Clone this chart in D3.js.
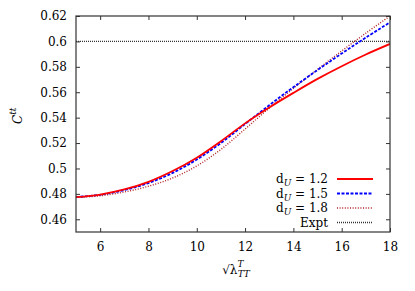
<!DOCTYPE html>
<html><head><meta charset="utf-8">
<script src="https://cdn.jsdelivr.net/npm/d3@7"></script>
<style>body{margin:0;background:#fff}</style>
</head><body><svg id="c" width="415" height="291"></svg>
<script>
const xs = [5,6,7,8,9,10,11,12,13,14,15,16,17,18];
const d12 = [0.4775,0.4795,0.4835,0.4895,0.4980,0.5085,0.5215,0.5355,0.5480,0.5595,0.5705,0.5805,0.5897,0.5980];
const d15 = [0.4775,0.4793,0.4830,0.4885,0.4965,0.5070,0.5200,0.5350,0.5498,0.5640,0.5775,0.5905,0.6030,0.6150];
const d18 = [0.4772,0.4785,0.4815,0.4860,0.4925,0.5020,0.5150,0.5310,0.5475,0.5630,0.5780,0.5925,0.6065,0.6200];
const expt = 0.6;
const xTicks = [6,8,10,12,14,16,18];
const yTicks = [0.46,0.48,0.5,0.52,0.54,0.56,0.58,0.6,0.62];
const series = [
  {label:"1.2", values:d12, color:"#ff0000", dash:null, w:1.8},
  {label:"1.5", values:d15, color:"#0000ff", dash:"3,1.5", w:1.8},
  {label:"1.8", values:d18, color:"#b22222", dash:"1,1.6", w:1.4}
];
const FF = "'DejaVu Serif', serif";
const L=76,R=390,T=16,B=232;
const x = d3.scaleLinear().domain([5,18]).range([L,R]);
const y = d3.scaleLinear().domain([0.45,0.62]).range([B,T]);
const svg = d3.select("#c");
const g = svg.append("g");
g.append("line").attr("x1",x(5)).attr("x2",x(18)).attr("y1",y(expt)).attr("y2",y(expt))
 .attr("stroke","#333").attr("stroke-width",1.4).attr("stroke-dasharray","1,1");
const line = d3.line().x(d=>x(d[0])).y(d=>y(d[1])).curve(d3.curveCatmullRom);
svg.append("clipPath").attr("id","pc").append("rect").attr("x",L).attr("y",T-2).attr("width",R-L).attr("height",B-T+2);
series.slice().reverse().forEach(s=>{
  g.append("path").attr("d",line(xs.map((v,i)=>[v,s.values[i]]))).attr("fill","none")
   .attr("stroke",s.color).attr("stroke-width",s.w).attr("stroke-dasharray",s.dash).attr("clip-path","url(#pc)");
});
const ax = svg.append("g");
const fs=12;
const styleAxis = a=>{a.attr("font-family",FF).attr("font-size",fs);a.select(".domain").remove();a.selectAll("text").attr("font-family",FF).attr("font-size",fs).attr("fill","#000");a.selectAll("line").attr("stroke","#333");};
ax.append("g").attr("transform",`translate(0,${B})`).call(d3.axisBottom(x).tickValues(xTicks).tickSize(-4).tickPadding(10).tickFormat(d3.format("d"))).call(styleAxis);
ax.append("g").attr("transform",`translate(0,${T})`).call(d3.axisTop(x).tickValues(xTicks).tickSize(-4).tickFormat("")).call(styleAxis);
ax.append("g").attr("transform",`translate(${L},0)`).call(d3.axisLeft(y).tickValues(yTicks).tickSize(-4).tickPadding(9).tickFormat(d=>String(+d.toFixed(2)))).call(styleAxis);
ax.append("g").attr("transform",`translate(${R},0)`).call(d3.axisRight(y).tickValues(yTicks).tickSize(-4).tickFormat("")).call(styleAxis);
ax.append("rect").attr("x",L).attr("y",T).attr("width",R-L).attr("height",B-T).attr("fill","none").attr("stroke","#333").attr("stroke-width",1.2);
const leg = svg.append("g");
const rows = series.map(s=>({t:"d",sub:"U",rest:" = "+s.label,color:s.color,dash:s.dash,w:s.w}));
rows.push({t:"Expt",color:"#333",dash:"1,1",w:1.4});
rows.forEach((r,i)=>{
  const yy = 183 + i*14.5;
  const tx = leg.append("text").attr("x",328).attr("y",yy).attr("text-anchor","end").attr("font-size",fs).attr("font-family",FF);
  tx.append("tspan").text(r.t);
  if(r.sub){ tx.append("tspan").attr("font-style","italic").attr("font-size",9).attr("dy",3).text(r.sub);
             tx.append("tspan").attr("dy",-3).text(r.rest);}
  leg.append("line").attr("x1",337).attr("x2",373).attr("y1",yy-4).attr("y2",yy-4)
    .attr("stroke",r.color).attr("stroke-width",r.w).attr("stroke-dasharray",r.dash);
});
const xl = svg.append("text").attr("x",236).attr("y",274).attr("text-anchor","middle").attr("font-size",fs).attr("font-family",FF);
xl.append("tspan").text("√λ");
xl.append("tspan").attr("font-style","italic").attr("font-size",9).attr("dy",-7).text("T");
xl.append("tspan").attr("font-style","italic").attr("font-size",9).attr("dy",10).attr("dx",-6).text("TT");
const yl = svg.append("text").attr("transform","translate(22,124) rotate(-90)").attr("font-size",fs).attr("font-style","italic").attr("font-family",FF);
yl.append("tspan").text("C");
yl.append("tspan").attr("font-size",9).attr("dy",-6).text("tt");
</script></body></html>
